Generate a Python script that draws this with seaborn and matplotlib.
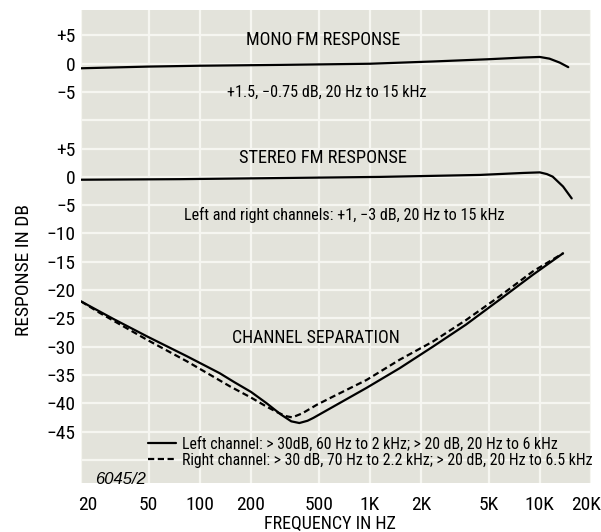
import matplotlib
matplotlib.use("Agg")
import matplotlib.pyplot as plt
import matplotlib.transforms as mtransforms
import seaborn as sns
import pandas as pd
import numpy as np

# ---------------- data ----------------
freq_mono = [20, 50, 100, 300, 1000, 2350, 5000, 8000, 10000, 11400, 13100, 14700]
mono_db = [-0.8, -0.5, -0.35, -0.2, 0.0, 0.4, 0.8, 1.1, 1.2, 0.9, 0.2, -0.6]

freq_stereo = [20, 76, 295, 1140, 4440, 8000, 10000, 11000, 11900, 13700, 15400]
stereo_db = [-0.5, -0.4, -0.2, 0.0, 0.35, 0.7, 0.8, 0.5, 0.05, -1.7, -3.8]

freq_left = [20, 31, 49, 84, 131, 160, 200, 247, 300, 345, 385, 430, 465, 610, 955,
             1500, 2350, 3680, 5800, 9100, 13700]
left_db = [-22.0, -25.1, -28.2, -31.7, -34.7, -36.3, -38.0, -40.0, -42.0, -43.2,
           -43.5, -43.1, -42.6, -40.6, -37.3, -33.8, -30.0, -26.1, -21.7, -17.3, -13.5]

freq_right = [20, 26, 49, 84, 150, 200, 247, 290, 323, 350, 400, 486, 610, 955, 1500,
              2350, 3680, 5800, 9100, 13700]
right_db = [-22.0, -24.1, -28.8, -32.6, -37.0, -39.0, -40.6, -41.7, -42.3, -42.5,
            -41.8, -40.3, -38.8, -35.9, -32.3, -29.1, -25.3, -21.1, -16.7, -13.5]

x_ticks = [20, 50, 100, 200, 500, 1000, 2000, 5000, 10000, 20000]
x_tick_labels = ["20", "50", "100", "200", "500", "1K", "2K", "5K", "10K", "20K"]
mono_ticks = [5, 0, -5]
stereo_ticks = [5, 0, -5, -10, -15, -20, -25, -30, -35, -40, -45]

left_label = "Left channel: > 30dB, 60 Hz to 2 kHz; > 20 dB, 20 Hz to 6 kHz"
right_label = "Right channel: > 30 dB, 70 Hz to 2.2 kHz; > 20 dB, 20 Hz to 6.5 kHz"

# mono panel is drawn on the same axis, shifted up by this many dB
MONO_OFFSET = 20

# ---------------- style ----------------
sns.set_theme(style="white")
plt.rcParams["font.family"] = ["Roboto Condensed", "DejaVu Sans"]
plt.rcParams["axes.unicode_minus"] = True
plt.rcParams["text.color"] = "black"
plt.rcParams["axes.labelcolor"] = "black"

fig = plt.figure(figsize=(6.01, 5.32), dpi=100)
ax = fig.add_axes([81 / 601, 49 / 532, 510 / 601, 473 / 532])
ax.set_facecolor("#e3e3db")
for s in ax.spines.values():
    s.set_visible(False)

df_mono = pd.DataFrame({"freq": freq_mono, "db": np.array(mono_db) + MONO_OFFSET})
df_stereo = pd.DataFrame({"freq": freq_stereo, "db": stereo_db})
df_left = pd.DataFrame({"freq": freq_left, "db": left_db})
df_right = pd.DataFrame({"freq": freq_right, "db": right_db})

lw = 1.6
sns.lineplot(data=df_mono, x="freq", y="db", ax=ax, color="black", lw=lw,
             estimator=None, sort=False)
sns.lineplot(data=df_stereo, x="freq", y="db", ax=ax, color="black", lw=lw,
             estimator=None, sort=False)
sns.lineplot(data=df_left, x="freq", y="db", ax=ax, color="black", lw=lw,
             estimator=None, sort=False, label=left_label)
sns.lineplot(data=df_right, x="freq", y="db", ax=ax, color="black", lw=lw,
             estimator=None, sort=False, label=right_label)
ax.lines[-1].set_dashes((2.8, 1.6))

ax.set_xscale("log")
ax.set_xlim(20, 20000)
ax.set_ylim(-54.1, 29.5)

ax.set_xticks(x_ticks)
ax.set_xticklabels(x_tick_labels)
ax.xaxis.set_minor_locator(matplotlib.ticker.NullLocator())


def fmt(t):
    if t > 0:
        return "+%d" % t
    if t == 0:
        return "0"
    return "\u2212%d" % -t


pos_labels = {t: fmt(t) for t in stereo_ticks}
for t in mono_ticks:
    pos_labels[t + MONO_OFFSET] = fmt(t)
yt = list(range(-50, 30, 5))
ax.set_yticks(yt)
ax.set_yticklabels([pos_labels.get(v, "") for v in yt])

ax.grid(True, which="major", color="#f6f6f1", lw=1.6)
ax.tick_params(axis="both", length=0, labelsize=14, colors="black")
ax.tick_params(axis="y", pad=4)
ax.tick_params(axis="x", pad=9)

# the end labels sit a little inside the frame in the reference
xl = ax.get_xticklabels()
xl[0].set_transform(xl[0].get_transform() + mtransforms.ScaledTranslation(7 / 100, 0, fig.dpi_scale_trans))
xl[-1].set_transform(xl[-1].get_transform() + mtransforms.ScaledTranslation(-5 / 100, 0, fig.dpi_scale_trans))

ax.set_xlabel("FREQUENCY IN HZ", fontsize=13)
ax.set_ylabel("RESPONSE IN DB", fontsize=14)
ax.xaxis.set_label_coords(0.488, -0.067)
ax.yaxis.set_label_coords(-0.094, 0.45)

# annotations
ax.text(529, 24.2, "MONO FM RESPONSE", ha="center", va="center", fontsize=13)
ax.text(558, 15.0, "+1.5, \u22120.75 dB, 20 Hz to 15 kHz", ha="center", va="center", fontsize=11.6)
ax.text(529, 3.4, "STEREO FM RESPONSE", ha="center", va="center", fontsize=13.2)
ax.text(703, -6.7, "Left and right channels: +1, \u22123 dB, 20 Hz to 15 kHz",
        ha="center", va="center", fontsize=11.6)
ax.text(482, -28.5, "CHANNEL SEPARATION", ha="center", va="center", fontsize=12.8)
ax.text(24.1, -53.4, "6045/2", ha="left", va="center", fontsize=12,
        family=["Liberation Sans", "DejaVu Sans"], style="italic")

ax.legend(loc="upper left", bbox_to_anchor=(0.131, 0.099), frameon=False,
          fontsize=11.3, handlelength=1.8, handletextpad=0.4, labelspacing=0.1,
          borderpad=0, borderaxespad=0)

fig.savefig("out.png", dpi=100)
